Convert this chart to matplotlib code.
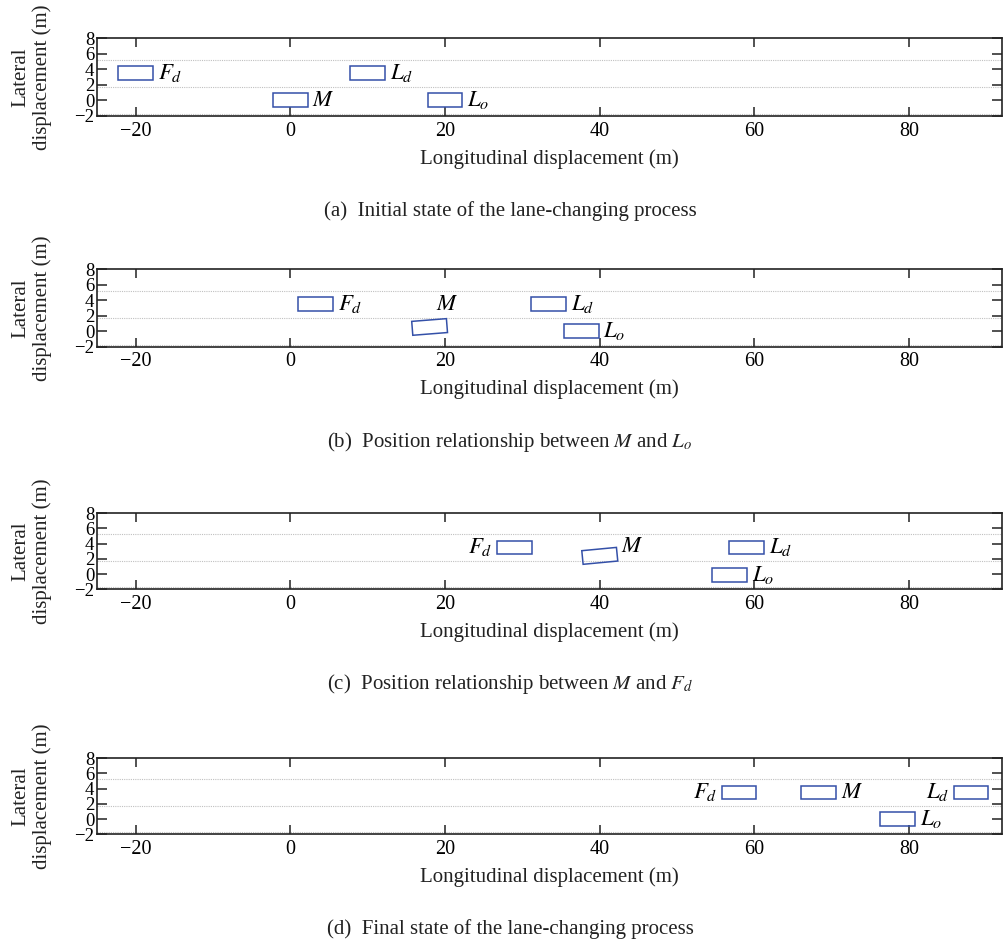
import matplotlib as mpl

mpl.use("agg")

import matplotlib.pyplot as plt
from matplotlib.patches import Rectangle

plt.rcParams["font.family"] = ["Liberation Serif", "DejaVu Serif"]
plt.rcParams["mathtext.fontset"] = "stix"

# vehicles shown in every panel
vehicles = ["F_d", "M", "L_d", "L_o"]

# centre x (m), centre y (m) and heading (deg) of each vehicle, per panel
x_a = [-20, 0, 10, 20]
y_a = [3.5, 0, 3.5, 0]
heading_a = [0, 0, 0, 0]

x_b = [3.3, 18.0, 33.4, 37.6]
y_b = [3.5, 0.55, 3.5, 0]
heading_b = [0, 4.5, 0, 0]

x_c = [29.0, 40.0, 59.0, 56.8]
y_c = [3.5, 2.4, 3.5, -0.1]
heading_c = [0, 5.5, 0, 0]

x_d = [58.0, 68.3, 88.0, 78.5]
y_d = [3.5, 3.5, 3.5, 0]
heading_d = [0, 0, 0, 0]

# where the name goes relative to the box
label_side_a = ["right", "right", "right", "right"]
label_side_b = ["right", "above", "right", "right"]
label_side_c = ["left", "corner", "right", "right"]
label_side_d = ["left", "right", "left", "right"]

captions = [
    "(a)  Initial state of the lane-changing process",
    "(b)  Position relationship between $M$ and $L_o$",
    "(c)  Position relationship between $M$ and $F_d$",
    "(d)  Final state of the lane-changing process",
]

lane_lines = [-1.75, 1.75, 5.25]
x_ticks = [-20, 0, 20, 40, 60, 80]
y_ticks = [-2, 0, 2, 4, 6, 8]

VEH_LEN = 4.5
VEH_WID = 1.8
BOX_COLOR = "#3450a8"

W, H = 1005, 940
# axes top / bottom in pixels
tops = [38.3, 269.3, 513.3, 758.3]
bottoms = [116, 346.7, 589.3, 834.3]
left_px, right_px = 97, 1002

fig = plt.figure(figsize=(W / 100, H / 100), dpi=100)

panels = [
    (x_a, y_a, heading_a, label_side_a),
    (x_b, y_b, heading_b, label_side_b),
    (x_c, y_c, heading_c, label_side_c),
    (x_d, y_d, heading_d, label_side_d),
]

for i, (xs, ys, hs, sides) in enumerate(panels):
    ax = fig.add_axes([
        left_px / W,
        1 - bottoms[i] / H,
        (right_px - left_px) / W,
        (bottoms[i] - tops[i]) / H,
    ])
    ax.set_xlim(-25, 92)
    ax.set_ylim(-2, 8)

    for ly in lane_lines:
        ax.axhline(ly, color="#c0c0c0", lw=0.8, ls=(0, (1, 1)), zorder=1)

    for name, cx, cy, hd, side in zip(vehicles, xs, ys, hs, sides):
        rect = Rectangle(
            (cx - VEH_LEN / 2, cy - VEH_WID / 2),
            VEH_LEN,
            VEH_WID,
            angle=hd,
            rotation_point="center",
            fill=False,
            edgecolor=BOX_COLOR,
            lw=1.1,
            zorder=3,
        )
        ax.add_patch(rect)
        label = f"${name}$"
        if side == "right":
            ax.text(cx + VEH_LEN / 2 + 0.6, cy, label, ha="left", va="center",
                    fontsize=16.5)
        elif side == "left":
            ax.text(cx - VEH_LEN / 2 - 0.6, cy, label, ha="right", va="center",
                    fontsize=16.5)
        elif side == "above":
            ax.text(cx + 2.3, cy + 2.95, label, ha="center", va="center",
                    fontsize=16.5)
        else:
            ax.text(cx + 2.8, cy + 1.2, label, ha="left", va="center",
                    fontsize=16.5)

    ax.set_xticks(x_ticks)
    ax.set_yticks(y_ticks)
    ax.tick_params(axis="both", direction="in", top=True, right=True,
                   width=1.1, color="#222222", pad=4)
    ax.tick_params(axis="x", length=6.5, labelsize=14.5)
    ax.tick_params(axis="y", length=7, pad=2, labelsize=13.5)
    for s in ax.spines.values():
        s.set_linewidth(1.2)
        s.set_color("#222222")

    ax.set_xlabel("Longitudinal displacement (m)", fontsize=15, labelpad=6,
                  color="#222222")
    ax.set_ylabel("Lateral\ndisplacement (m)", fontsize=15, color="#222222",
                  linespacing=1.1)
    ax.yaxis.set_label_coords((52 - left_px) / (right_px - left_px), 0.5)

    fig.text(510 / W, 1 - (bottoms[i] + 95) / H, captions[i], ha="center",
             va="center", fontsize=15, color="#222222")

fig.savefig("out.png", dpi=100)
